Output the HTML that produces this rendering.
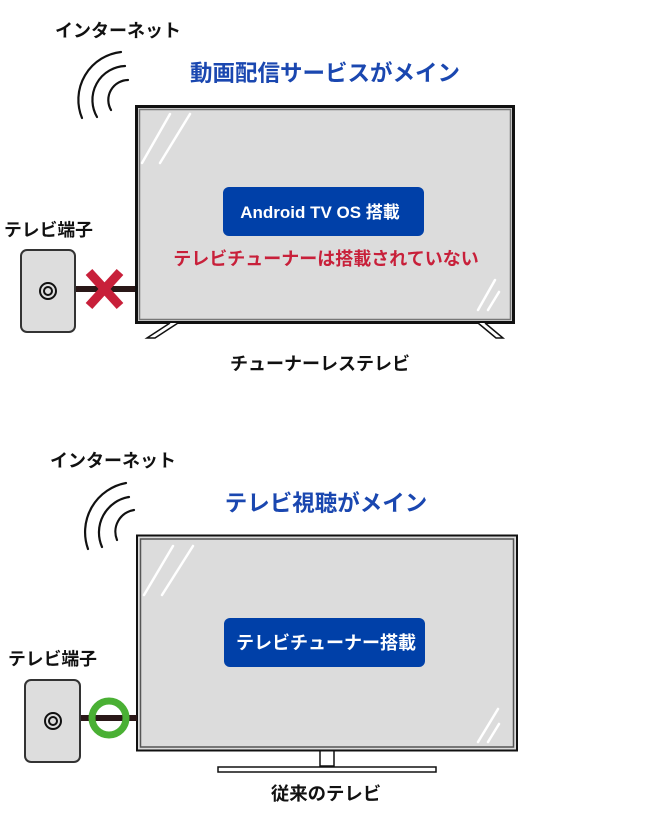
<!DOCTYPE html>
<html><head><meta charset="utf-8"><style>
html,body{margin:0;padding:0;background:#fff;}
svg{display:block;}
text{font-family:"Liberation Sans","Noto Sans CJK JP",sans-serif;font-weight:bold;}
</style></head><body>
<svg width="649" height="818" viewBox="0 0 649 818" xmlns="http://www.w3.org/2000/svg">
<!-- TOP -->
<text x="55" y="37" font-size="18" fill="#111">インターネット</text>
<g fill="none" stroke="#111" stroke-width="2.2" stroke-linecap="round">
<path d="M82 118 A48 48 0 0 1 121 52"/>
<path d="M97 117 A34 34 0 0 1 125 66"/>
<path d="M111 110 A20 20 0 0 1 128 80"/>
</g>
<text x="325" y="81" font-size="22.5" fill="#1a47b0" text-anchor="middle">動画配信サービスがメイン</text>
<rect x="136.5" y="106.5" width="377" height="216" fill="#dcdcdc" stroke="#111" stroke-width="3"/>
<rect x="139.5" y="109.5" width="371" height="210" fill="none" stroke="#777" stroke-width="1.5"/>
<g stroke="#fff" stroke-width="2.5" stroke-linecap="round">
<line x1="142" y1="163" x2="170" y2="114"/><line x1="160" y1="163" x2="190" y2="114"/>
<line x1="478" y1="310" x2="495" y2="280"/><line x1="488" y1="310" x2="499" y2="292"/>
</g>
<path d="M170 323 L147 338 L155 338 L178 323" fill="#fff" stroke="#111" stroke-width="1.5"/>
<path d="M478 323 L496 338 L503 338 L485 323" fill="#fff" stroke="#111" stroke-width="1.5"/>
<rect x="223" y="187" width="201" height="49" rx="6" fill="#0040a8"/>
<text x="320" y="218" font-size="17" fill="#fff" text-anchor="middle">Android TV OS 搭載</text>
<text x="326" y="265" font-size="18" fill="#c8203a" text-anchor="middle">テレビチューナーは搭載されていない</text>
<text x="4" y="236" font-size="17.8" fill="#111">テレビ端子</text>
<line x1="75" y1="289" x2="135" y2="289" stroke="#2a1818" stroke-width="6"/>
<rect x="21" y="250" width="54" height="82" rx="6" fill="#ddd" stroke="#333" stroke-width="2"/>
<circle cx="48" cy="291" r="8" fill="none" stroke="#111" stroke-width="2"/>
<circle cx="48" cy="291" r="4" fill="none" stroke="#111" stroke-width="2"/>
<g stroke="#c8203a" stroke-width="9"><line x1="89" y1="272" x2="120" y2="306"/><line x1="120" y1="272" x2="89" y2="306"/></g>
<text x="320" y="370" font-size="18" fill="#111" text-anchor="middle">チューナーレステレビ</text>

<!-- BOTTOM -->
<text x="50" y="467" font-size="18" fill="#111">インターネット</text>
<g fill="none" stroke="#111" stroke-width="2.2" stroke-linecap="round">
<path d="M88 549 A50 50 0 0 1 126 483"/>
<path d="M102 547 A36 36 0 0 1 129 497"/>
<path d="M117 540 A22 22 0 0 1 134 510"/>
</g>
<text x="326" y="511" font-size="22.5" fill="#1a47b0" text-anchor="middle">テレビ視聴がメイン</text>
<rect x="320" y="750" width="14" height="16" fill="#fff" stroke="#111" stroke-width="1.5"/>
<rect x="218" y="767" width="218" height="5" fill="#fff" stroke="#111" stroke-width="1.5"/>
<rect x="137" y="535.5" width="380" height="215" fill="#dcdcdc" stroke="#111" stroke-width="2"/>
<rect x="140.5" y="539" width="373" height="208" fill="none" stroke="#555" stroke-width="1.5"/>
<g stroke="#fff" stroke-width="2.5" stroke-linecap="round">
<line x1="144" y1="595" x2="173" y2="546"/><line x1="162" y1="595" x2="193" y2="546"/>
<line x1="478" y1="742" x2="498" y2="709"/><line x1="488" y1="742" x2="499" y2="724"/>
</g>
<rect x="224" y="618" width="201" height="49" rx="6" fill="#0040a8"/>
<text x="326" y="649" font-size="18" fill="#fff" text-anchor="middle">テレビチューナー搭載</text>
<text x="8" y="665" font-size="17.8" fill="#111">テレビ端子</text>
<line x1="80" y1="718" x2="137" y2="718" stroke="#2a1818" stroke-width="6"/>
<rect x="25" y="680" width="55" height="82" rx="6" fill="#ddd" stroke="#333" stroke-width="2"/>
<circle cx="53" cy="721" r="8" fill="none" stroke="#111" stroke-width="2"/>
<circle cx="53" cy="721" r="4" fill="none" stroke="#111" stroke-width="2"/>
<circle cx="109" cy="718" r="17" fill="none" stroke="#4ab034" stroke-width="7"/>
<text x="326" y="800" font-size="18.4" fill="#111" text-anchor="middle">従来のテレビ</text>
</svg>
</body></html>
